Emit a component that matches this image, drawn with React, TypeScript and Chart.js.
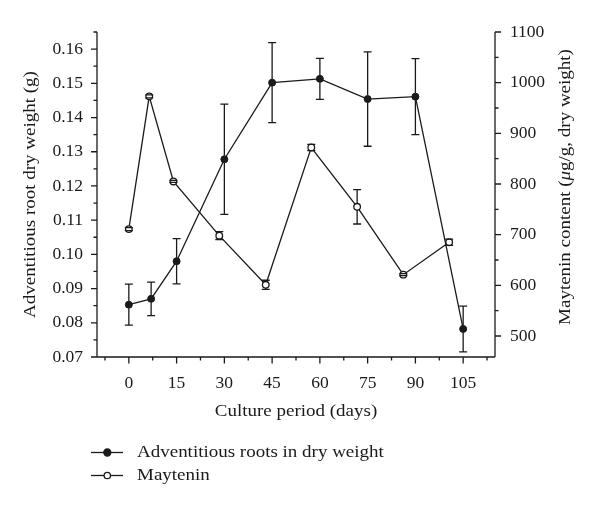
import { useEffect, useRef } from "react";
import { Chart, registerables } from "chart.js";

Chart.register(...registerables);

// ---- data ----
const weightDays = [0, 7, 15, 30, 45, 60, 75, 90, 105];
const dryWeight = [0.0853, 0.087, 0.098, 0.1278, 0.1502, 0.1513, 0.1454, 0.1461, 0.0782];
const dryWeightErr = [0.006, 0.0049, 0.0066, 0.0161, 0.0117, 0.006, 0.0138, 0.0111, 0.0067];

const mayteninDays = [0, 6.4, 14, 28.4, 43, 57.3, 71.7, 86.2, 100.6];
const maytenin = [711, 973, 805, 698, 601, 872, 755, 621, 685];
const mayteninErr = [3, 3, 2, 8, 9, 6, 34, 2, 6];

const xTicks = [0, 15, 30, 45, 60, 75, 90, 105];
const xMinorTicks = [-7.5, 7.5, 22.5, 37.5, 52.5, 67.5, 82.5, 97.5, 112.5];
const yLeftTicks = [0.07, 0.08, 0.09, 0.1, 0.11, 0.12, 0.13, 0.14, 0.15, 0.16];
const yLeftMinor = [0.075, 0.085, 0.095, 0.105, 0.115, 0.125, 0.135, 0.145, 0.155, 0.165];
const yRightTicks = [500, 600, 700, 800, 900, 1000, 1100];
const yRightMinor = [550, 650, 750, 850, 950, 1050];

const seriesNames = ["Adventitious roots in dry weight", "Maytenin"];
const xTitle = "Culture period (days)";
const yLeftTitle = "Adventitious root dry weight (g)";
const yRightTitleParts: [string, boolean][] = [
  ["Maytenin content (", false],
  ["\u03BC", true],
  ["g/g, dry weight)", false],
];

const FAMILY = "'Liberation Serif', 'Times New Roman', serif";
const FS = 17.5;
const INK = "#1a1a1a";
const STRETCH = 1.085;

const decorPlugin = {
  id: "decor",
  afterDatasetsDraw(chart: any) {
    const ctx = chart.ctx as CanvasRenderingContext2D;
    const xs = chart.scales.x;
    const yl = chart.scales.y;
    const yr = chart.scales.y2;
    const errSets: [number[], number[], number[], any, number][] = [
      [weightDays, dryWeight, dryWeightErr, yl, 3.5],
      [mayteninDays, maytenin, mayteninErr, yr, 3.3],
    ];
    ctx.save();
    ctx.strokeStyle = INK;
    ctx.lineWidth = 1.3;
    for (const [days, vals, errs, sc, r] of errSets) {
      days.forEach((d, i) => {
        const px = xs.getPixelForValue(d);
        const py = sc.getPixelForValue(vals[i]);
        const top = sc.getPixelForValue(vals[i] + errs[i]);
        const bot = sc.getPixelForValue(vals[i] - errs[i]);
        ctx.beginPath();
        if (py - top > r) {
          ctx.moveTo(px, top);
          ctx.lineTo(px, py - r);
          ctx.moveTo(px, py + r);
          ctx.lineTo(px, bot);
        }
        ctx.moveTo(px - 4, top);
        ctx.lineTo(px + 4, top);
        ctx.moveTo(px - 4, bot);
        ctx.lineTo(px + 4, bot);
        ctx.stroke();
      });
    }
    ctx.restore();
  },
  afterDraw(chart: any) {
    const ctx = chart.ctx as CanvasRenderingContext2D;
    const { left, right, top, bottom } = chart.chartArea;
    const xs = chart.scales.x;
    const yl = chart.scales.y;
    const yr = chart.scales.y2;
    ctx.save();
    ctx.strokeStyle = INK;
    ctx.lineWidth = 1.3;
    ctx.beginPath();
    ctx.moveTo(left, top);
    ctx.lineTo(left, bottom);
    ctx.lineTo(right, bottom);
    ctx.moveTo(right, top);
    ctx.lineTo(right, bottom);
    xTicks.forEach((v) => {
      const p = xs.getPixelForValue(v);
      ctx.moveTo(p, bottom);
      ctx.lineTo(p, bottom + 6.5);
    });
    xMinorTicks.forEach((v) => {
      const p = xs.getPixelForValue(v);
      ctx.moveTo(p, bottom);
      ctx.lineTo(p, bottom + 3.5);
    });
    yLeftTicks.forEach((v) => {
      const p = yl.getPixelForValue(v);
      ctx.moveTo(left, p);
      ctx.lineTo(left - 6, p);
    });
    yLeftMinor.forEach((v) => {
      const p = yl.getPixelForValue(v);
      ctx.moveTo(left, p);
      ctx.lineTo(left - 3.5, p);
    });
    yRightTicks.forEach((v) => {
      const p = yr.getPixelForValue(v);
      ctx.moveTo(right, p);
      ctx.lineTo(right + 6, p);
    });
    yRightMinor.forEach((v) => {
      const p = yr.getPixelForValue(v);
      ctx.moveTo(right, p);
      ctx.lineTo(right + 3.5, p);
    });
    ctx.stroke();

    const fontFor = (it: boolean) => `${it ? "italic " : ""}${FS}px ${FAMILY}`;
    ctx.fillStyle = INK;
    ctx.font = fontFor(false);
    ctx.textAlign = "center";
    ctx.textBaseline = "middle";

    // x title
    ctx.save();
    ctx.translate((left + right) / 2, 411);
    ctx.scale(STRETCH, 1);
    ctx.fillText(xTitle, 0, 0);
    ctx.restore();

    // left title
    ctx.save();
    ctx.translate(30.5, (top + bottom) / 2);
    ctx.rotate(-Math.PI / 2);
    ctx.scale(STRETCH, 1);
    ctx.fillText(yLeftTitle, 0, 0);
    ctx.restore();

    // right title
    ctx.save();
    ctx.translate(565, 187);
    ctx.rotate(-Math.PI / 2);
    ctx.scale(STRETCH, 1);
    ctx.textAlign = "left";
    let total = 0;
    for (const [t, it] of yRightTitleParts) {
      ctx.font = fontFor(it);
      total += ctx.measureText(t).width;
    }
    let cx = -total / 2;
    for (const [t, it] of yRightTitleParts) {
      ctx.font = fontFor(it);
      ctx.fillText(t, cx, 0);
      cx += ctx.measureText(t).width;
    }
    ctx.restore();

    // legend
    ctx.font = fontFor(false);
    ctx.textAlign = "left";
    const rows = [452.5, 475.5];
    rows.forEach((y, i) => {
      ctx.beginPath();
      ctx.moveTo(91, y);
      ctx.lineTo(123, y);
      ctx.stroke();
      ctx.beginPath();
      ctx.arc(107.3, y, i === 0 ? 3.5 : 3.2, 0, Math.PI * 2);
      ctx.fillStyle = i === 0 ? INK : "#ffffff";
      ctx.fill();
      ctx.stroke();
      ctx.fillStyle = INK;
      ctx.save();
      ctx.translate(137, y);
      ctx.scale(STRETCH, 1);
      ctx.fillText(seriesNames[i], 0, 0);
      ctx.restore();
    });
    ctx.restore();
  },
};

export default function App() {
  const ref = useRef<HTMLCanvasElement>(null);
  useEffect(() => {
    const tickFont = { family: FAMILY, size: FS };
    const chart = new Chart(ref.current as HTMLCanvasElement, {
      type: "line",
      data: {
        datasets: [
          {
            label: seriesNames[0],
            data: weightDays.map((d, i) => ({ x: d, y: dryWeight[i] })),
            yAxisID: "y",
            borderColor: INK,
            borderWidth: 1.3,
            pointRadius: 3.5,
            pointBackgroundColor: INK,
            pointBorderColor: INK,
            pointBorderWidth: 1,
            tension: 0,
          },
          {
            label: seriesNames[1],
            data: mayteninDays.map((d, i) => ({ x: d, y: maytenin[i] })),
            yAxisID: "y2",
            borderColor: INK,
            borderWidth: 1.3,
            pointRadius: 3.3,
            pointBackgroundColor: "#ffffff",
            pointBorderColor: INK,
            pointBorderWidth: 1.3,
            tension: 0,
          },
        ],
      },
      options: {
        responsive: false,
        animation: false,
        layout: { padding: { top: 32, left: 0, right: 0, bottom: 0 } },
        plugins: { legend: { display: false }, tooltip: { enabled: false } },
        scales: {
          x: {
            type: "linear",
            position: "bottom",
            min: -10,
            max: 115,
            grid: { display: false, drawTicks: false },
            border: { display: false },
            afterBuildTicks: (s: any) => {
              s.ticks = xTicks.map((v) => ({ value: v }));
            },
            afterFit: (s: any) => {
              s.height = 152;
            },
            ticks: {
              font: tickFont,
              color: INK,
              padding: 16,
              maxRotation: 0,
              autoSkip: false,
              callback: (v: any) => String(v),
            },
          },
          y: {
            type: "linear",
            position: "left",
            min: 0.07,
            max: 0.165,
            grid: { display: false, drawTicks: false },
            border: { display: false },
            afterBuildTicks: (s: any) => {
              s.ticks = yLeftTicks.map((v) => ({ value: v }));
            },
            afterFit: (s: any) => {
              s.width = 97;
            },
            ticks: {
              font: tickFont,
              color: INK,
              padding: 14,
              autoSkip: false,
              callback: (v: any) => Number(v).toFixed(2),
            },
          },
          y2: {
            type: "linear",
            position: "right",
            min: 458.5,
            max: 1100,
            grid: { display: false, drawTicks: false },
            border: { display: false },
            afterBuildTicks: (s: any) => {
              s.ticks = yRightTicks.map((v) => ({ value: v }));
            },
            afterFit: (s: any) => {
              s.width = 105;
            },
            ticks: {
              font: tickFont,
              color: INK,
              padding: 15,
              autoSkip: false,
              callback: (v: any) => String(v),
            },
          },
        },
      } as any,
      plugins: [decorPlugin],
    });
    return () => chart.destroy();
  }, []);
  return (
    <div style={{ position: "absolute", left: 0, top: 0, width: 600, height: 509, background: "#fff" }}>
      <canvas ref={ref} width={600} height={509} style={{ display: "block" }} />
    </div>
  );
}
